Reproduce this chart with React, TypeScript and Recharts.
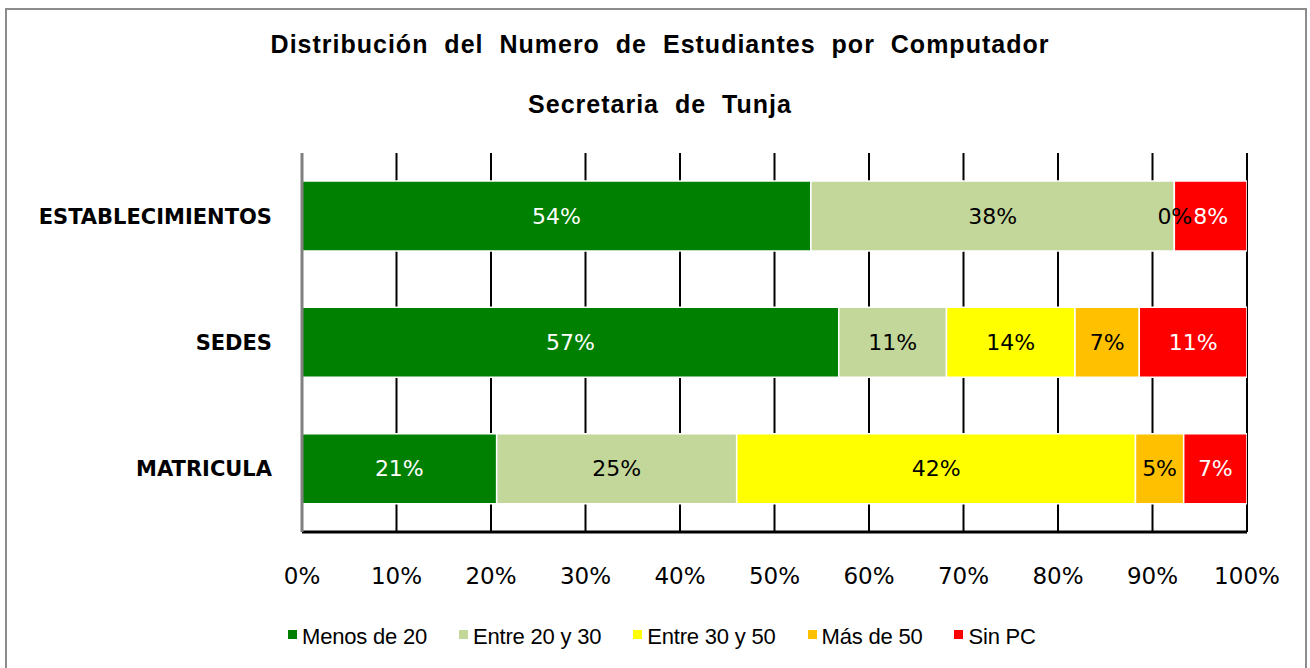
import { Bar, BarChart, CartesianGrid, LabelList, XAxis, YAxis } from 'recharts';

const categories = ['ESTABLECIMIENTOS', 'SEDES', 'MATRICULA'];
const menos20 = [53.85, 56.8, 20.6];
const entre20y30 = [38.46, 11.4, 25.4];
const entre30y50 = [0, 13.6, 42.2];
const mas50 = [null, 6.8, 5.1];
const sinPC = [7.69, 11.4, 6.7];
const xTicks = [0, 10, 20, 30, 40, 50, 60, 70, 80, 90, 100];

const series = [
  { key: 'menos20', name: 'Menos de 20', color: '#008000', text: '#ffffff' },
  { key: 'entre20y30', name: 'Entre 20 y 30', color: '#c4d79b', text: '#000000' },
  { key: 'entre30y50', name: 'Entre 30 y 50', color: '#ffff00', text: '#000000' },
  { key: 'mas50', name: 'Más de 50', color: '#ffc000', text: '#000000' },
  { key: 'sinPC', name: 'Sin PC', color: '#ff0000', text: '#ffffff' },
];

const data = categories.map((name, i) => ({
  name,
  menos20: menos20[i],
  entre20y30: entre20y30[i],
  entre30y50: entre30y50[i],
  mas50: mas50[i],
  sinPC: sinPC[i],
}));

// labels come from an invisible copy of the stack on the secondary axes, so they sit on top of every bar
const makeLabel = (color: string) => (props: any) => {
  const { x, y, width, height, value } = props;
  if (value === null || value === undefined) return null;
  return (
    <text
      x={Number(x) + Number(width) / 2}
      y={Number(y) + Number(height) / 2}
      textAnchor="middle"
      dominantBaseline="central"
      fill={color}
      fontSize={22}
      fontFamily='"DejaVu Sans", sans-serif'
    >
      {`${Math.round(Number(value))}%`}
    </text>
  );
};

function LegendRow() {
  return (
    <div
      style={{
        position: 'absolute',
        left: 288,
        top: 624,
        display: 'flex',
        fontFamily: '"Liberation Sans", Arial, sans-serif',
        fontSize: 22,
        color: '#000',
        letterSpacing: -0.2,
        whiteSpace: 'nowrap',
      }}
    >
      {series.map((s) => (
        <div key={s.key} style={{ display: 'flex', alignItems: 'center', marginRight: 32 }}>
          <span
            style={{
              display: 'inline-block',
              width: 9,
              height: 9,
              background: s.color,
              marginRight: 5,
              marginTop: -6,
            }}
          />
          <span>{s.name}</span>
        </div>
      ))}
    </div>
  );
}

export default function App() {
  const titleStyle: React.CSSProperties = {
    position: 'absolute',
    left: 5,
    width: 1310,
    textAlign: 'center',
    fontFamily: '"Liberation Sans", Arial, sans-serif',
    fontWeight: 'bold',
    fontSize: 25,
    letterSpacing: 1,
    wordSpacing: 8,
    color: '#000',
    whiteSpace: 'nowrap',
  };

  return (
    <div style={{ position: 'absolute', left: 0, top: 0, width: 1310, height: 668, overflow: 'hidden', background: '#fff' }}>
      <div style={{ ...titleStyle, top: 30 }}>Distribución del Numero de Estudiantes por Computador</div>
      <div style={{ ...titleStyle, top: 90 }}>Secretaria de Tunja</div>
      <div style={{ position: 'absolute', left: 0, top: 0 }}>
        <BarChart
          width={1310}
          height={668}
          data={data}
          layout="vertical"
          margin={{ top: 153, right: 63, left: 0, bottom: 56 }}
          barSize={70}
        >
          <CartesianGrid vertical horizontal={false} stroke="#000" strokeWidth={2} />
          <XAxis
            type="number"
            domain={[0, 100]}
            ticks={xTicks}
            allowDataOverflow
            tickFormatter={(v) => `${v}%`}
            tickLine={false}
            tickMargin={30}
            axisLine={{ stroke: '#000', strokeWidth: 3 }}
            height={80}
            tick={{ fill: '#000', fontSize: 23, fontFamily: '"DejaVu Sans", sans-serif' }}
            interval={0}
          />
          <XAxis
            xAxisId="top"
            type="number"
            orientation="top"
            domain={[0, 100]}
            allowDataOverflow
            tick={false}
            tickLine={false}
            height={0}
            axisLine={{ stroke: '#000', strokeWidth: 3 }}
          />
          <YAxis
            type="category"
            dataKey="name"
            width={302}
            tickLine={false}
            tickMargin={24}
            axisLine={{ stroke: '#808080', strokeWidth: 3 }}
            tick={{ fill: '#000', fontSize: 21, fontWeight: 'bold', fontFamily: '"DejaVu Sans", sans-serif' }}
          />
          <YAxis
            yAxisId="right"
            type="category"
            dataKey="name"
            orientation="right"
            width={0}
            tick={false}
            tickLine={false}
            axisLine={{ stroke: '#000', strokeWidth: 3 }}
          />
          {series.map((s) => (
            <Bar
              key={s.key}
              dataKey={s.key}
              name={s.name}
              stackId="a"
              fill={s.color}
              stroke="#ffffff"
              strokeWidth={1.5}
              isAnimationActive={false}
            />
          ))}
          {series.map((s) => (
            <Bar
              key={`${s.key}-label`}
              dataKey={s.key}
              xAxisId="top"
              yAxisId="right"
              stackId="a"
              fill="none"
              stroke="none"
              minPointSize={1}
              isAnimationActive={false}
              legendType="none"
            >
              <LabelList dataKey={s.key} content={makeLabel(s.text)} />
            </Bar>
          ))}
        </BarChart>
      </div>
      <LegendRow />
      <div
        style={{
          position: 'absolute',
          left: 5,
          top: 8,
          width: 1302,
          height: 700,
          border: '2px solid #8c8c8c',
          boxSizing: 'border-box',
          pointerEvents: 'none',
        }}
      />
    </div>
  );
}
